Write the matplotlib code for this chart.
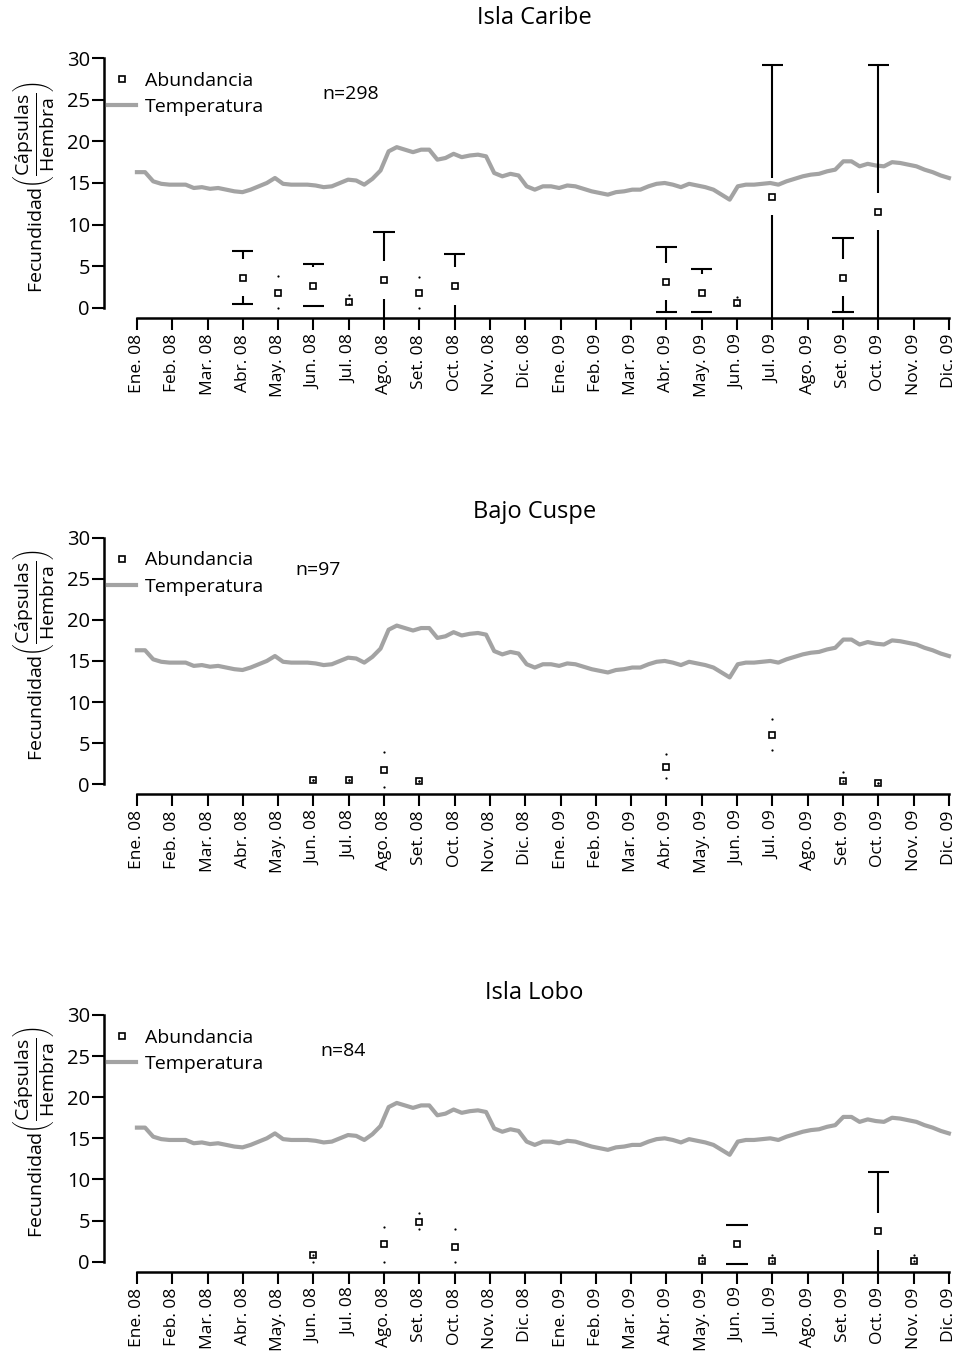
import numpy as np
import matplotlib
matplotlib.use('Agg')
import matplotlib.pyplot as plt
from matplotlib.lines import Line2D

plt.rcParams['font.family'] = ['Open Sans', 'DejaVu Sans']
plt.rcParams['mathtext.fontset'] = 'custom'
plt.rcParams['mathtext.rm'] = 'Open Sans'
plt.rcParams['mathtext.it'] = 'Open Sans'

# ---------- DATOS ----------
meses = ['Ene. 08', 'Feb. 08', 'Mar. 08', 'Abr. 08', 'May. 08', 'Jun. 08',
         'Jul. 08', 'Ago. 08', 'Set. 08', 'Oct. 08', 'Nov. 08', 'Dic. 08',
         'Ene. 09', 'Feb. 09', 'Mar. 09', 'Abr. 09', 'May. 09', 'Jun. 09',
         'Jul. 09', 'Ago. 09', 'Set. 09', 'Oct. 09', 'Nov. 09', 'Dic. 09']

# temperatura semanal (ene 2008 - dic 2009)
temperatura = [16.3, 16.3, 15.2, 14.9, 14.8, 14.8, 14.8, 14.4, 14.5, 14.3,
               14.4, 14.2, 14.0, 13.9, 14.2, 14.6, 15.0, 15.6, 14.9, 14.8,
               14.8, 14.8, 14.7, 14.5, 14.6, 15.0, 15.4, 15.3, 14.8, 15.5,
               16.5, 18.8, 19.3, 19.0, 18.7, 19.0, 19.0, 17.8, 18.0, 18.5,
               18.1, 18.3, 18.4, 18.2, 16.2, 15.8, 16.1, 15.9, 14.6, 14.2,
               14.6, 14.6, 14.4, 14.7, 14.6, 14.3, 14.0, 13.8, 13.6, 13.9,
               14.0, 14.2, 14.2, 14.6, 14.9, 15.0, 14.8, 14.5, 14.9, 14.7,
               14.5, 14.2, 13.6, 13.0, 14.6, 14.8, 14.8, 14.9, 15.0, 14.8,
               15.2, 15.5, 15.8, 16.0, 16.1, 16.4, 16.6, 17.6, 17.6, 17.0,
               17.3, 17.1, 17.0, 17.5, 17.4, 17.2, 17.0, 16.6, 16.3, 15.9,
               15.6]

# Isla Caribe
caribe_mes = [3, 4, 5, 6, 7, 8, 9, 15, 16, 17, 18, 20, 21]
caribe_media = [3.64, 1.84, 2.64, 0.72, 3.36, 1.76, 2.64, 3.16, 1.84, 0.56, 13.36, 3.64, 11.56]
caribe_sup = [6.84, 3.88, 5.28, 1.56, 9.16, 3.68, 6.44, 7.36, 4.68, 1.36, 29.2, 8.4, 29.2]
caribe_inf = [0.52, 0.04, 0.28, 0.5, -2.4, 0.04, -1.5, -0.52, -0.52, 0.4, -2.5, -0.52, -6.0]

# Bajo Cuspe
cuspe_mes = [5, 6, 7, 8, 15, 18, 20, 21]
cuspe_media = [0.52, 0.52, 1.74, 0.44, 2.07, 5.99, 0.44, 0.2]
cuspe_sup = [0.52, 0.52, 3.89, 0.44, 3.64, 7.9, 1.53, 0.2]
cuspe_inf = [0.52, 0.52, -0.3, 0.44, 0.73, 4.17, 0.44, 0.2]

# Isla Lobo
lobo_mes = [5, 7, 8, 9, 16, 17, 18, 21, 22]
lobo_media = [0.81, 2.11, 4.79, 1.83, 0.1, 2.11, 0.1, 3.73, 0.1]
lobo_sup = [0.81, 4.26, 5.89, 3.98, 0.81, 4.46, 0.81, 10.87, 0.81]
lobo_inf = [0.0, 0.0, 3.94, 0.0, 0.1, -0.28, 0.1, -3.4, 0.1]

paneles = [
    ('Isla Caribe', 'n=298', caribe_mes, caribe_media, caribe_sup, caribe_inf),
    ('Bajo Cuspe', 'n=97', cuspe_mes, cuspe_media, cuspe_sup, cuspe_inf),
    ('Isla Lobo', 'n=84', lobo_mes, lobo_media, lobo_sup, lobo_inf),
]

# ---------- ESTILO ----------
GRIS = '#a3a3a3'
GAP = 2.25     # hueco alrededor del punto (unidades y)
CAP = 0.3      # media anchura de la tapa (meses)
FS = 14

# posiciones de los ejes (fraccion de figura)
posiciones = [
    [0.1087, 0.7662, 0.9125, 0.1985],
    [0.1087, 0.4160, 0.9125, 0.1960],
    [0.1087, 0.0650, 0.9125, 0.1960],
]
titulo_y = [1.111, 1.058, 1.045]
n_pos = [(0.249, 0.830), (0.218, 0.841), (0.246, 0.827)]
leyenda_y = [0.94, 0.94, 0.94]
etiqueta_y = [0.485, 0.522, 0.524]


def dibujar_barras(ax, mes, media, sup, inf):
    for x, m, s, i in zip(mes, media, sup, inf):
        for lim, sgn in ((s, 1), (i, -1)):
            ini = m + sgn * GAP
            if (lim - ini) * sgn > 0:
                ax.plot([x, x], [ini, lim], color='black', lw=1.5, solid_capstyle='butt')
                ax.plot([x - CAP, x + CAP], [lim, lim], color='black', lw=1.5,
                        solid_capstyle='butt')
            else:
                ax.plot([x], [lim], 'o', ms=1.6, color='black', mew=0)
    ax.plot(mes, media, 's', ms=5, mfc='none', mec='black', mew=1.2, zorder=4)


fig = plt.figure(figsize=(9.61, 13.6), dpi=100)
x_temp = np.arange(len(temperatura)) * (len(meses) - 1) / (len(temperatura) - 1)

for k, (titulo, n_txt, mes, media, sup, inf) in enumerate(paneles):
    ax = fig.add_axes(posiciones[k])
    ax.patch.set_visible(False)
    ax.plot(x_temp, temperatura, color=GRIS, lw=3, zorder=2)
    dibujar_barras(ax, mes, media, sup, inf)

    ax.set_xlim(-0.92, 23.92)
    ax.set_ylim(-1.2, 31.2)
    for s in ('top', 'right'):
        ax.spines[s].set_visible(False)
    ax.spines['left'].set_bounds(0, 30)
    ax.spines['bottom'].set_bounds(0, 23)
    ax.spines['left'].set_linewidth(1.8)
    ax.spines['bottom'].set_linewidth(1.8)
    ax.set_yticks(range(0, 31, 5))
    ax.set_xticks(range(len(meses)))
    ax.set_xticklabels(meses, rotation=90, fontsize=12.5)
    ax.tick_params(axis='y', labelsize=FS + 0.5, length=8.5, width=1.5, pad=2)
    ax.tick_params(axis='x', length=8.5, width=1.5, pad=3)

    ax.set_ylabel(r'Fecundidad$\left(\dfrac{\mathrm{Cápsulas}}{\mathrm{Hembra}}\right)$',
                  fontsize=FS)
    ax.yaxis.set_label_coords(-0.055, etiqueta_y[k])

    ax.text(0.49, titulo_y[k], titulo, transform=ax.transAxes, ha='center',
            va='center', fontsize=17)
    ax.text(n_pos[k][0], n_pos[k][1], n_txt, transform=ax.transAxes,
            ha='left', va='center', fontsize=FS)

    manejadores = [
        Line2D([], [], ls='none', marker='s', ms=5, mfc='none', mec='black', mew=1.2),
        Line2D([], [], color=GRIS, lw=3),
    ]
    ax.legend(manejadores, ['Abundancia', 'Temperatura'], loc='upper left',
              bbox_to_anchor=(-0.005, leyenda_y[k]), frameon=False, fontsize=FS,
              handlelength=1.45, handletextpad=0.45, labelspacing=0.42,
              borderaxespad=0)

fig.savefig('out.png', dpi=100)
